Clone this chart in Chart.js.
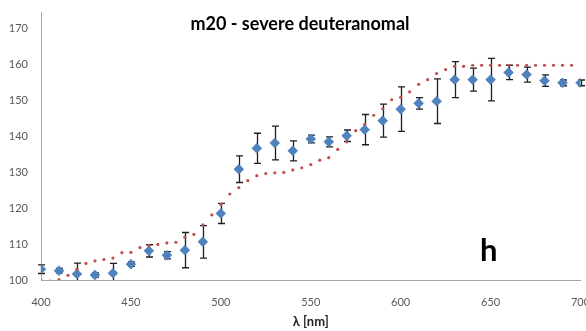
<!DOCTYPE html>
<html>
<head>
<meta charset="utf-8">
<title>m20 - severe deuteranomal</title>
<script src="https://cdn.jsdelivr.net/npm/chart.js@4.4.1/dist/chart.umd.min.js"></script>
<style>
    html, body { margin: 0; padding: 0; background: #fff; }
    #wrap { width: 586px; height: 331px; position: relative; }
</style>
</head>
<body>
<div id="wrap"><canvas id="hueChart"></canvas></div>
<script>
// Measured hue matches (mean and error) per wavelength
const wavelengths = [400, 410, 420, 430, 440, 450, 460, 470, 480, 490, 500, 510, 520, 530, 540, 550,
    560, 570, 580, 590, 600, 610, 620, 630, 640, 650, 660, 670, 680, 690, 700];
const meanValues = [103.0, 102.6, 101.7, 101.4, 101.9, 104.4, 108.1, 106.9, 108.3, 110.6, 118.5, 130.8,
    136.6, 138.1, 135.9, 139.2, 138.4, 140.1, 141.8, 144.3, 147.5, 149.1, 149.7, 155.7, 155.7, 155.7,
    157.7, 157.1, 155.4, 154.8, 154.8];
const errorValues = [1.2, 0.6, 3.0, 0.6, 2.7, 0.6, 1.7, 1.0, 4.9, 4.5, 2.8, 3.7, 4.2, 4.7, 2.8, 1.1,
    1.4, 1.6, 4.2, 4.6, 6.2, 1.6, 6.2, 5.0, 3.2, 5.9, 2.0, 2.1, 1.6, 0.8, 0.8];

// Model prediction, sampled every 5 nm
const modelWavelengths = [400, 405, 410, 415, 420, 425, 430, 435, 440, 445, 450, 455, 460, 465, 470, 475,
    480, 485, 490, 495, 500, 505, 510, 515, 520, 525, 530, 535, 540, 545, 550, 555, 560, 565, 570, 575,
    580, 585, 590, 595, 600, 605, 610, 615, 620, 625, 630, 635, 640, 645, 650, 655, 660, 665, 670, 675,
    680, 685, 690, 695];
const modelValues = [99.8, 99.7, 100.1, 101.3, 103.0, 104.6, 105.3, 105.7, 106.1, 107.6, 107.7, 109.0,
    109.6, 109.9, 110.3, 110.5, 111.9, 112.7, 115.3, 118.1, 121.0, 123.9, 125.7, 127.6, 129.0, 129.6,
    129.8, 129.9, 130.6, 131.2, 132.1, 133.3, 134.0, 136.3, 138.4, 141.5, 143.3, 145.8, 147.6, 150.1,
    150.8, 152.3, 154.4, 155.7, 157.4, 158.5, 159.4, 159.4, 159.7, 159.7, 159.7, 159.7, 159.7, 159.7,
    159.7, 159.7, 159.7, 159.7, 159.7, 159.7];

const yTicks = [100, 110, 120, 130, 140, 150, 160, 170];
const xTicks = [400, 450, 500, 550, 600, 650, 700];

const chartTitle = 'm20 - severe deuteranomal';
const panelLetter = 'h';

let hueChart;

document.addEventListener('DOMContentLoaded', () => {
    initChart();
});

// Vertical error bars with caps, drawn just under the measured markers
const errorBarPlugin = {
    id: 'errorBars',
    beforeDatasetDraw(chart, args) {
        if (args.index !== 1) return;
        const { ctx, scales: { x, y } } = chart;
        ctx.save();
        ctx.strokeStyle = '#1e1e1e';
        ctx.lineWidth = 1.3;
        ctx.beginPath();
        wavelengths.forEach((w, i) => {
            const px = Math.round(x.getPixelForValue(w)) + 0.5;
            const top = y.getPixelForValue(meanValues[i] + errorValues[i]);
            const bottom = Math.min(y.getPixelForValue(meanValues[i] - errorValues[i]), y.bottom);
            ctx.moveTo(px, top);
            ctx.lineTo(px, bottom);
            ctx.moveTo(px - 3.5, top);
            ctx.lineTo(px + 3.5, top);
            if (bottom < y.bottom) {
                ctx.moveTo(px - 3.5, bottom);
                ctx.lineTo(px + 3.5, bottom);
            }
        });
        ctx.stroke();
        ctx.restore();
    }
};

// Chart heading and panel letter
const labelsPlugin = {
    id: 'panelLabels',
    afterDraw(chart) {
        const { ctx, scales: { x, y } } = chart;
        ctx.save();
        ctx.fillStyle = '#000';
        ctx.textAlign = 'center';
        ctx.textBaseline = 'middle';
        ctx.font = 'bold 18px Lato, "DejaVu Sans", sans-serif';
        ctx.fillText(chartTitle, 300, 24);
        ctx.font = 'bold 31px Lato, "DejaVu Sans", sans-serif';
        ctx.textBaseline = 'alphabetic';
        ctx.fillText(panelLetter, x.getPixelForValue(649), y.getPixelForValue(105.3));
        ctx.restore();
    }
};

function initChart() {
    const canvas = document.getElementById('hueChart');
    if (hueChart) hueChart.destroy();
    hueChart = new Chart(canvas, {
        type: 'scatter',
        data: {
            datasets: [
                {
                    label: 'model',
                    data: modelWavelengths.map((w, i) => ({ x: w, y: modelValues[i] })),
                    pointStyle: 'circle',
                    pointRadius: 1.6,
                    pointBackgroundColor: '#c0504d',
                    pointBorderWidth: 0,
                    showLine: false
                },
                {
                    label: 'measured',
                    data: wavelengths.map((w, i) => ({ x: w, y: meanValues[i] })),
                    pointStyle: 'rectRot',
                    pointRadius: 5,
                    pointBackgroundColor: '#4f81bd',
                    pointBorderColor: '#4f81bd',
                    pointBorderWidth: 0.5,
                    showLine: false
                }
            ]
        },
        options: {
            responsive: true,
            maintainAspectRatio: false,
            animation: false,
            layout: { padding: { top: 12, right: 5, left: 0, bottom: 0 } },
            plugins: {
                legend: { display: false },
                tooltip: { enabled: false },
                title: { display: false }
            },
            scales: {
                x: {
                    type: 'linear',
                    min: 400,
                    max: 700,
                    afterBuildTicks: scale => {
                        scale.ticks = xTicks.map(v => ({ value: v }));
                    },
                    afterFit: scale => {
                        scale.height = 51;
                        scale.paddingLeft = 0;
                        scale.paddingRight = 0;
                    },
                    grid: { display: false, drawTicks: false },
                    border: { display: true, color: '#a6a6a6', width: 1 },
                    ticks: {
                        padding: 16,
                        maxRotation: 0,
                        color: '#595959',
                        font: { family: 'Lato, "DejaVu Sans", sans-serif', size: 11 }
                    },
                    title: {
                        display: true,
                        text: 'λ [nm]',
                        color: '#262626',
                        padding: { top: 0, bottom: 1 },
                        font: { family: 'Lato, "DejaVu Sans", sans-serif', size: 13, weight: 'bold' }
                    }
                },
                y: {
                    min: 100,
                    max: 174.5,
                    afterBuildTicks: scale => {
                        scale.ticks = yTicks.map(v => ({ value: v }));
                    },
                    afterFit: scale => {
                        scale.width = 41;
                        scale.paddingTop = 0;
                        scale.paddingBottom = 0;
                    },
                    grid: { display: false, drawTicks: false },
                    border: { display: true, color: '#a6a6a6', width: 1 },
                    ticks: {
                        padding: 13,
                        color: '#595959',
                        font: { family: 'Lato, "DejaVu Sans", sans-serif', size: 11 }
                    }
                }
            }
        },
        plugins: [errorBarPlugin, labelsPlugin]
    });
}
</script>
</body>
</html>
